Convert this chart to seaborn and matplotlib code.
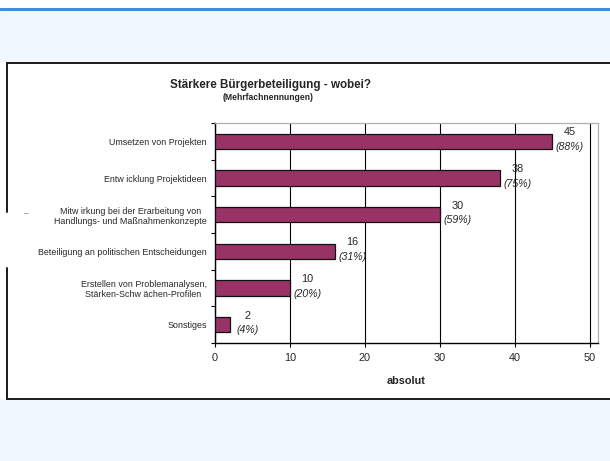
import matplotlib
matplotlib.use('Agg')
import matplotlib.pyplot as plt
import seaborn as sns
import pandas as pd
from matplotlib.patches import Rectangle
from matplotlib.lines import Line2D

# =============================================================================
# DATA
# =============================================================================
categories = [
    'Umsetzen von Projekten',
    'Entw icklung Projektideen',
    'Mitw irkung bei der Erarbeitung von\nHandlungs- und Maßnahmenkonzepte',
    'Beteiligung an politischen Entscheidungen',
    'Erstellen von Problemanalysen,\nStärken-Schw ächen-Profilen',
    'Sonstiges',
]
counts = [45, 38, 30, 16, 10, 2]
percents = [88, 75, 59, 31, 20, 4]
x_ticks = [0, 10, 20, 30, 40, 50]

df = pd.DataFrame({'Kategorie': categories, 'absolut': counts})

# =============================================================================
# SETUP
# =============================================================================
sns.set_style('white')
plt.rcParams['font.family'] = ['Liberation Sans', 'DejaVu Sans']

W, H = 610, 461
fig = plt.figure(figsize=(6.1, 4.61), dpi=100, facecolor='#f0f7fd')

def fx(px):
    return px / W

def fy(py):
    return 1 - py / H

# page decoration: white strip on top, blue rule, white chart box
fig.add_artist(Rectangle((0, fy(8)), 1, 8 / H, transform=fig.transFigure,
                         facecolor='white', edgecolor='none', zorder=-2))
fig.add_artist(Line2D([0, 1], [fy(9), fy(9)], transform=fig.transFigure,
                      color='#3a8fe8', linewidth=2.2, zorder=-1))
fig.add_artist(Rectangle((0, fy(399)), 1.0, (399 - 63) / H,
                         transform=fig.transFigure, facecolor='white',
                         edgecolor='none', zorder=-2))
border = dict(transform=fig.transFigure, color='#1a1a1a', linewidth=1.4, zorder=-1)
fig.add_artist(Line2D([fx(7), 1], [fy(63), fy(63)], **border))
fig.add_artist(Line2D([fx(7), 1], [fy(399), fy(399)], **border))
fig.add_artist(Line2D([fx(7), fx(7)], [fy(63), fy(212)], **border))
fig.add_artist(Line2D([fx(7), fx(7)], [fy(268), fy(399)], **border))
fig.add_artist(Line2D([fx(24), fx(28)], [fy(213), fy(213)],
                      transform=fig.transFigure, color='#999999', linewidth=0.6))

# =============================================================================
# CHART
# =============================================================================
ax = fig.add_axes([fx(215), fy(343), fx(598) - fx(215), fy(123) - fy(343)])
ax.set_facecolor('white')
sns.barplot(data=df, x='absolut', y='Kategorie', orient='h', color='#993366',
            saturation=1, edgecolor='#111111', linewidth=0.9, width=0.42,
            ax=ax, zorder=3)

ax.set_xlim(0, 51.07)
ax.set_ylim(len(categories) - 0.5, -0.5)
ax.set_xticks(x_ticks)
ax.set_xticklabels([str(t) for t in x_ticks], fontsize=7.8)
ax.xaxis.grid(True, color='black', linewidth=0.8, zorder=0)
ax.set_axisbelow(True)

ax.set_yticks(range(len(categories)))
ax.set_yticklabels(categories, fontsize=6.4, multialignment='center')
ax.set_yticks([i - 0.5 for i in range(len(categories) + 1)], minor=True)
ax.tick_params(axis='y', which='major', length=0, pad=6)
ax.tick_params(axis='y', which='minor', length=3, width=0.8, direction='out',
               color='black', left=True)
ax.tick_params(axis='x', length=3, width=0.8, direction='out', color='black',
               bottom=True, pad=4)

for side in ['left', 'bottom']:
    ax.spines[side].set_color('black')
    ax.spines[side].set_linewidth(1.0)
for side in ['top', 'right']:
    ax.spines[side].set_color('#b0b0b0')
    ax.spines[side].set_linewidth(0.9)

ax.set_xlabel('absolut', fontsize=7.8, fontweight='bold', labelpad=9.5)
ax.set_ylabel('')

# value labels: count above, share in italics below
for i, (c, p) in enumerate(zip(counts, percents)):
    ax.annotate(str(c), xy=(c, i), xytext=(12.5, 6.5), textcoords='offset points',
                ha='center', va='center', fontsize=7.8, zorder=5)
    ax.annotate(f'({p}%)', xy=(c, i), xytext=(12.5, -4), textcoords='offset points',
                ha='center', va='center', fontsize=7.6, style='italic', zorder=5)

fig.text(fx(270), fy(85), 'Stärkere Bürgerbeteiligung - wobei?',
         ha='center', va='center', fontsize=8.4, fontweight='bold')
fig.text(fx(268), fy(97), '(Mehrfachnennungen)',
         ha='center', va='center', fontsize=6.2, fontweight='bold')

plt.savefig('out.png', dpi=100, facecolor=fig.get_facecolor())
